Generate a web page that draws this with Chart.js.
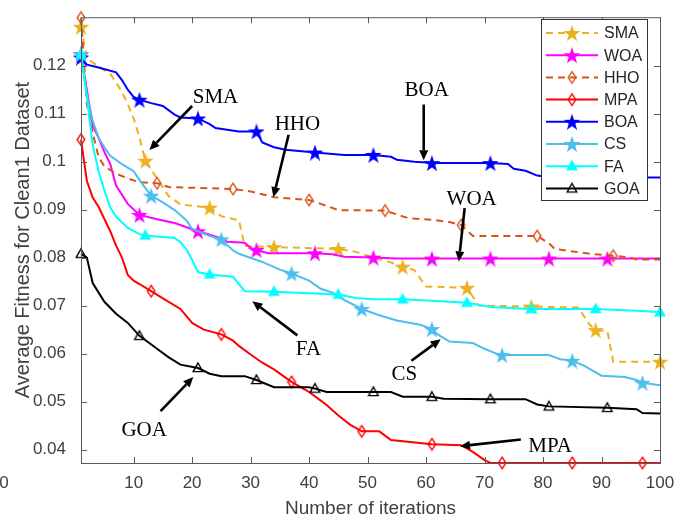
<!DOCTYPE html>
<html>
<head>
<meta charset="utf-8">
<script src="https://cdn.jsdelivr.net/npm/chart.js@4.4.0/dist/chart.umd.min.js"></script>
<style>
  html, body { margin: 0; padding: 0; background: #fff; }
  #wrap { position: relative; width: 692px; height: 525px; }
</style>
</head>
<body>
<div id="wrap"><canvas id="fitnessChart" width="692" height="525"></canvas></div>
<script>
// Convergence curves: [iteration, average fitness]
const SMA = [[1,0.1281],[2,0.1215],[5,0.1190],[6,0.1183],[7,0.1165],[8,0.1145],[9,0.1120],[10,0.1090],[11,0.1050],[12,0.1002],
  [14,0.0965],[16,0.0928],[18,0.0911],[23,0.0904],[25,0.0886],[28,0.0878],[29,0.0824],[34,0.0822],[45,0.0818],[48,0.0812],
  [51,0.0800],[54,0.0790],[56,0.0781],[58,0.0774],[60,0.0740],[67,0.0737],[69,0.0700],[78,0.0698],[86,0.0696],[88,0.0660],
  [89,0.0649],[91,0.0647],[92,0.0583],[100,0.0583]];
const WOA = [[1,0.1224],[2,0.1150],[3,0.1075],[4,0.1050],[5,0.1020],[6,0.0995],[7,0.0950],[9,0.0912],[11,0.0889],[14,0.0880],
  [17,0.0872],[21,0.0855],[23,0.0848],[25,0.0840],[26,0.0833],[29,0.0831],[30,0.0820],[31,0.0816],[33,0.0809],[41,0.0809],
  [44,0.0807],[46,0.0802],[51,0.0800],[55,0.0798],[61,0.0798],[71,0.0798],[81,0.0798],[91,0.0798],[100,0.0798]];
const HHO = [[1,0.1300],[2,0.1120],[3,0.1060],[4,0.1010],[5,0.0990],[7,0.0975],[9,0.0965],[11,0.0957],[14,0.0955],[16,0.0947],
  [27,0.0943],[30,0.0938],[34,0.0926],[40,0.0920],[42,0.0912],[45,0.0899],[53,0.0898],[55,0.0890],[57,0.0882],[61,0.0879],
  [64,0.0874],[66,0.0868],[68,0.0845],[79,0.0845],[81,0.0830],[82,0.0818],[88,0.0808],[92,0.0804],[95,0.0800],[96,0.0796],[100,0.0796]];
const MPA = [[1,0.1046],[2,0.0960],[3,0.0925],[4,0.0906],[6,0.0855],[7,0.0825],[8,0.0800],[9,0.0764],[10,0.0752],[11,0.0745],
  [13,0.0730],[15,0.0715],[18,0.0693],[20,0.0664],[22,0.0650],[25,0.0640],[27,0.0627],[28,0.0616],[30,0.0598],[32,0.0581],
  [34,0.0567],[37,0.0541],[39,0.0527],[40,0.0520],[42,0.0502],[43,0.0493],[45,0.0471],[47,0.0452],[49,0.0438],[52,0.0438],
  [54,0.0420],[61,0.0411],[66,0.0409],[68,0.0395],[70,0.0378],[71,0.0372],[73,0.0372],[85,0.0372],[97,0.0372],[100,0.0372]];
const BOA = [[1,0.1217],[2,0.1202],[4,0.1196],[7,0.1186],[8,0.1170],[9,0.1150],[10,0.1135],[11,0.1129],[13,0.1122],[15,0.1116],
  [17,0.1098],[18,0.1092],[21,0.1090],[23,0.1078],[24,0.1070],[28,0.1063],[31,0.1063],[32,0.1040],[34,0.1030],[36,0.1025],
  [41,0.1019],[44,0.1016],[46,0.1014],[51,0.1014],[54,0.1010],[55,0.1004],[58,0.1000],[60,0.0998],[61,0.0997],[71,0.0997],
  [74,0.0995],[75,0.0985],[77,0.0981],[79,0.0971],[81,0.0968],[91,0.0967],[100,0.0967]];
const CS = [[1,0.1224],[2,0.1140],[3,0.1085],[4,0.1050],[5,0.1030],[6,0.1012],[8,0.0995],[10,0.0980],[11,0.0962],[12,0.0945],
  [13,0.0929],[15,0.0915],[17,0.0899],[19,0.0878],[20,0.0860],[23,0.0845],[25,0.0838],[27,0.0815],[28,0.0808],[32,0.0791],
  [35,0.0775],[37,0.0767],[40,0.0752],[42,0.0735],[44,0.0727],[46,0.0712],[49,0.0693],[52,0.0680],[55,0.0669],[59,0.0660],
  [61,0.0651],[62,0.0640],[64,0.0625],[68,0.0622],[70,0.0610],[72,0.0600],[73,0.0597],[81,0.0597],[83,0.0588],[85,0.0585],
  [87,0.0575],[90,0.0554],[94,0.0551],[96,0.0545],[97,0.0539],[100,0.0534]];
const FA = [[1,0.1224],[2,0.1135],[3,0.1035],[4,0.0980],[5,0.0940],[6,0.0905],[7,0.0885],[9,0.0862],[11,0.0849],[12,0.0846],
  [17,0.0841],[18,0.0832],[19,0.0818],[20,0.0795],[21,0.0770],[23,0.0765],[27,0.0760],[28,0.0745],[29,0.0730],[34,0.0729],
  [45,0.0723],[48,0.0716],[51,0.0713],[56,0.0713],[61,0.0710],[67,0.0706],[71,0.0697],[78,0.0693],[89,0.0693],[97,0.0689],[100,0.0686]];
const GOA = [[1,0.0808],[2,0.0800],[3,0.0747],[5,0.0708],[7,0.0683],[9,0.0664],[11,0.0637],[14,0.0610],[16,0.0592],[18,0.0577],
  [21,0.0570],[23,0.0558],[25,0.0553],[29,0.0553],[31,0.0545],[34,0.0530],[40,0.0530],[41,0.0527],[43,0.0520],[51,0.0520],
  [54,0.0520],[56,0.0510],[61,0.0510],[63,0.0506],[71,0.0505],[77,0.0505],[79,0.0494],[81,0.0490],[91,0.0487],[96,0.0484],
  [97,0.0476],[100,0.0475]];

// iterations that carry a marker on each curve
const SMA_MARKS = [1,12,23,34,45,56,67,78,89,100];
const WOA_MARKS = [1,11,21,31,41,51,61,71,81,91];
const HHO_MARKS = [1,14,27,40,53,66,79,92];
const MPA_MARKS = [1,13,25,37,49,61,73,85,97];
const BOA_MARKS = [1,11,21,31,41,51,61,71,81,91];
const CS_MARKS  = [1,13,25,37,49,61,73,85,97];
const FA_MARKS  = [1,12,23,34,45,56,67,78,89,100];
const GOA_MARKS = [1,11,21,31,41,51,61,71,81,91];

const xTicks = [10,20,30,40,50,60,70,80,90,100];
const yTicks = [0.04,0.05,0.06,0.07,0.08,0.09,0.10,0.11,0.12];

// callouts: label, text centre, arrow tail, arrow head  (iteration, fitness)
const callouts = [
  ['SMA', [24.0,0.1133], [20.0,0.1116], [12.7,0.1024]],
  ['HHO', [38.0,0.1078], [36.5,0.1056], [33.9,0.0926]],
  ['BOA', [60.1,0.1149], [59.6,0.1119], [59.6,0.1003]],
  ['WOA', [67.8,0.0922], [66.6,0.0903], [65.6,0.0792]],
  ['FA',  [39.9,0.0608], [38.0,0.0638], [30.3,0.0709]],
  ['CS',  [56.3,0.0557], [57.5,0.0585], [62.5,0.0630]],
  ['GOA', [11.8,0.0439], [14.6,0.0480], [20.2,0.0551]],
  ['MPA', [81.2,0.0407], [76.2,0.0421], [65.8,0.0407]]
];

const SANS = "'Liberation Sans', Arial, Helvetica, sans-serif";
const SERIF = "'Liberation Serif', 'Times New Roman', serif";
const AXIS_GREY = '#404040';

function marker(shape, stroke, fill) {
  const c = document.createElement('canvas');
  c.width = 16; c.height = 16;
  const g = c.getContext('2d');
  g.translate(8, 8);
  g.beginPath();
  if (shape === 'pentagram') {
    for (let k = 0; k < 10; k++) {
      const r = k % 2 ? 2.6 : 6.6;
      const a = -Math.PI / 2 + k * Math.PI / 5;
      g.lineTo(r * Math.cos(a), r * Math.sin(a) + 0.8);
    }
  } else if (shape === 'diamond') {
    g.moveTo(0, -5.8); g.lineTo(3.8, 0); g.lineTo(0, 5.8); g.lineTo(-3.8, 0);
  } else {
    g.moveTo(0, -5); g.lineTo(4.8, 3.6); g.lineTo(-4.8, 3.6);
  }
  g.closePath();
  if (fill) { g.fillStyle = fill; g.fill(); }
  g.lineWidth = 1.4;
  g.strokeStyle = stroke;
  g.stroke();
  return c;
}

function series(label, data, marks, color, shape, filled, dashed) {
  const img = marker(shape, color, filled ? color : null);
  return {
    label: label,
    data: data,
    borderColor: color,
    backgroundColor: color,
    borderWidth: 2,
    borderDash: dashed ? [7, 5] : [],
    pointStyle: img,
    pointRadius: ctx => marks.includes(ctx.raw[0]) ? 5 : 0,
    tension: 0,
    clip: false,
    fill: false
  };
}

const datasets = [
  series('SMA', SMA, SMA_MARKS, '#EDB120', 'pentagram', true, true),
  series('WOA', WOA, WOA_MARKS, '#FF00FF', 'pentagram', true, false),
  series('HHO', HHO, HHO_MARKS, '#D95319', 'diamond', false, true),
  series('MPA', MPA, MPA_MARKS, '#FF0000', 'diamond', false, false),
  series('BOA', BOA, BOA_MARKS, '#0000FF', 'pentagram', true, false),
  series('CS',  CS,  CS_MARKS,  '#4DBEEE', 'pentagram', true, false),
  series('FA',  FA,  FA_MARKS,  '#00FFFF', 'triangle', true, false),
  series('GOA', GOA, GOA_MARKS, '#000000', 'triangle', false, false)
];
// later curves on top
datasets.forEach((d, i) => { d.order = datasets.length - i; });

// box, inward ticks on all four sides
const axesBox = {
  id: 'axesBox',
  afterDatasetsDraw(chart) {
    const {ctx, chartArea: a, scales: {x, y}} = chart;
    ctx.save();
    ctx.strokeStyle = '#5a5a5a';
    ctx.lineWidth = 1;
    ctx.strokeRect(a.left + 0.5, a.top + 0.5, a.right - a.left, a.bottom - a.top);
    ctx.beginPath();
    xTicks.forEach(v => {
      const px = Math.round(x.getPixelForValue(v)) + 0.5;
      ctx.moveTo(px, a.bottom); ctx.lineTo(px, a.bottom - 6);
      ctx.moveTo(px, a.top); ctx.lineTo(px, a.top + 6);
    });
    yTicks.forEach(v => {
      const py = Math.round(y.getPixelForValue(v)) + 0.5;
      ctx.moveTo(a.left, py); ctx.lineTo(a.left + 6, py);
      ctx.moveTo(a.right, py); ctx.lineTo(a.right - 6, py);
    });
    ctx.stroke();

    // arrows and their labels
    ctx.fillStyle = '#000';
    ctx.strokeStyle = '#000';
    ctx.font = '21px ' + SERIF;
    ctx.textAlign = 'center';
    ctx.textBaseline = 'middle';
    callouts.forEach(([text, t, from, to]) => {
      ctx.fillText(text, x.getPixelForValue(t[0]), y.getPixelForValue(t[1]));
      const x0 = x.getPixelForValue(from[0]), y0 = y.getPixelForValue(from[1]);
      const x1 = x.getPixelForValue(to[0]), y1 = y.getPixelForValue(to[1]);
      const ang = Math.atan2(y1 - y0, x1 - x0);
      const hl = 10, hw = 4.5;
      const bx = x1 - hl * Math.cos(ang), by = y1 - hl * Math.sin(ang);
      ctx.lineWidth = 2.6;
      ctx.beginPath();
      ctx.moveTo(x0, y0); ctx.lineTo(bx, by);
      ctx.stroke();
      ctx.beginPath();
      ctx.moveTo(x1, y1);
      ctx.lineTo(bx + hw * Math.sin(ang), by - hw * Math.cos(ang));
      ctx.lineTo(bx - hw * Math.sin(ang), by + hw * Math.cos(ang));
      ctx.closePath();
      ctx.fill();
    });
    ctx.restore();
  },
  afterDraw(chart) {
    const {ctx} = chart;
    const bx = 541, by = 19, bw = 106, bh = 181;
    ctx.save();
    ctx.fillStyle = '#fff';
    ctx.fillRect(bx, by, bw, bh);
    ctx.strokeStyle = '#333';
    ctx.lineWidth = 1;
    ctx.strokeRect(bx + 0.5, by + 0.5, bw, bh);
    ctx.font = '16px ' + SANS;
    ctx.textAlign = 'left';
    ctx.textBaseline = 'middle';
    chart.data.datasets.forEach((d, i) => {
      const ry = by + 14 + i * 22.2;
      ctx.strokeStyle = d.borderColor;
      ctx.lineWidth = 2;
      ctx.setLineDash(d.borderDash);
      ctx.beginPath();
      ctx.moveTo(bx + 5, ry); ctx.lineTo(bx + 57, ry);
      ctx.stroke();
      ctx.setLineDash([]);
      ctx.drawImage(d.pointStyle, bx + 31 - 8, ry - 8);
      ctx.fillStyle = '#262626';
      ctx.fillText(d.label, bx + 63, ry + 1);
    });
    // tick label of the neighbouring panel at the left edge
    ctx.fillStyle = AXIS_GREY;
    ctx.font = '17px ' + SANS;
    ctx.textAlign = 'center';
    ctx.fillText('0', 4, 483);
    ctx.restore();
  }
};

new Chart(document.getElementById('fitnessChart'), {
  type: 'line',
  data: { datasets: datasets },
  options: {
    responsive: false,
    animation: false,
    devicePixelRatio: 1,
    events: [],
    layout: { padding: { top: 5, right: 32, bottom: 0, left: 0 } },
    plugins: { legend: { display: false }, tooltip: { enabled: false } },
    scales: {
      x: {
        type: 'linear', min: 1, max: 100,
        afterBuildTicks: s => { s.ticks = xTicks.map(v => ({ value: v })); },
        afterFit: s => { s.height = 62; },
        grid: { display: false }, border: { display: false },
        ticks: { color: AXIS_GREY, font: { family: SANS, size: 17 }, padding: 2, maxRotation: 0, autoSkip: false },
        title: { display: true, text: 'Number of iterations', color: AXIS_GREY,
                 font: { family: SANS, size: 19 }, padding: { top: 0, bottom: 5 } }
      },
      y: {
        type: 'linear', min: 0.0372, max: 0.1301,
        afterBuildTicks: s => { s.ticks = yTicks.map(v => ({ value: v })); },
        afterFit: s => { s.width = 81; },
        grid: { display: false }, border: { display: false },
        ticks: { color: AXIS_GREY, font: { family: SANS, size: 17 }, padding: 7,
                 callback: v => String(+v.toFixed(2)) },
        title: { display: true, text: 'Average Fitness for Clean1 Dataset', color: AXIS_GREY,
                 font: { family: SANS, size: 20 }, padding: { top: 11, bottom: 0 } }
      }
    }
  },
  plugins: [axesBox]
});
</script>
</body>
</html>
